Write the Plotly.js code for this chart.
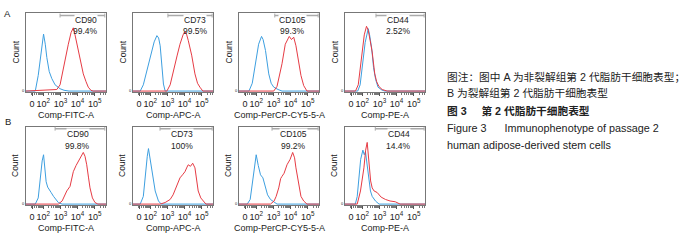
<!DOCTYPE html>
<html><head><meta charset="utf-8">
<script src="https://cdn.plot.ly/plotly-3.0.1.min.js"></script>
<style>html,body{margin:0;padding:0;background:#fff;}#chart{width:700px;height:241px;}</style>
</head><body><div id="chart"></div>
<script>
// ---------- data (x in log-decade units, y = relative count) ----------
const markers = ['CD90', 'CD73', 'CD105', 'CD44'];
const channels = ['Comp-FITC-A', 'Comp-APC-A', 'Comp-PerCP-CY5-5-A', 'Comp-PE-A'];
const pctA = ['99.4%', '99.5%', '99.3%', '2.52%'];
const pctB = ['99.8%', '100%', '99.2%', '14.4%'];
const tickVals = [1.35, 2, 3, 4, 5];
const tickText = ['0', '10<sup>2</sup>', '10<sup>3</sup>', '10<sup>4</sup>', '10<sup>5</sup>'];
const gateStartA = [2.98, 3.03, 3.08, 2.80];
const gateStartB = [2.69, 2.57, 2.92, 2.76];
const gateEnd = [5.58, 5.60, 5.60, 5.60];

// Row A
const aCD90BlueX = [1.0, 1.54, 1.71, 1.88, 2.02, 2.12, 2.21, 2.35, 2.50, 2.69, 2.98, 3.21, 3.5, 5.65];
const aCD90BlueY = [0, 0, 20, 52, 73, 60, 43, 25, 16, 8, 3, 1, 0, 0];
const aCD90RedX = [1.0, 2.79, 2.98, 3.17, 3.33, 3.46, 3.62, 3.75, 3.85, 4.04, 4.20, 4.33, 4.49, 4.62, 4.77, 4.9, 5.65];
const aCD90RedY = [0, 2, 8, 30, 47, 60, 75, 81, 72, 52, 35, 22, 12, 5, 1, 0, 0];
const aCD73BlueX = [1.0, 1.42, 1.6, 1.81, 1.94, 2.10, 2.23, 2.39, 2.49, 2.58, 2.66, 2.77, 2.87, 5.65];
const aCD73BlueY = [0, 0, 8, 27, 40, 52, 63, 71, 68, 58, 35, 9, 0, 0];
const aCD73RedX = [1.0, 2.97, 3.16, 3.35, 3.56, 3.73, 3.91, 4.02, 4.11, 4.21, 4.31, 4.41, 4.60, 4.75, 4.89, 5.06, 5.65];
const aCD73RedY = [0, 0, 8, 27, 45, 60, 72, 76, 73, 65, 55, 46, 22, 10, 5, 0, 0];
const aCD105BlueX = [1.0, 1.58, 1.77, 1.96, 2.14, 2.31, 2.40, 2.54, 2.73, 2.87, 3.02, 3.27, 3.5, 5.65];
const aCD105BlueY = [0, 0, 10, 35, 60, 70, 66, 52, 22, 10, 5, 2, 0, 0];
const aCD105RedX = [1.0, 3.02, 3.21, 3.39, 3.50, 3.69, 3.92, 4.05, 4.18, 4.31, 4.47, 4.60, 4.76, 4.95, 5.65];
const aCD105RedY = [0, 0, 6, 22, 35, 60, 70, 66, 69, 58, 39, 20, 7, 0, 0];
const aCD44BlueX = [1.0, 1.74, 1.88, 2.06, 2.17, 2.35, 2.43, 2.55, 2.66, 2.78, 2.92, 3.16, 3.33, 5.65];
const aCD44BlueY = [0, 0, 8, 42, 62, 80, 72, 55, 30, 15, 5, 1, 0, 0];
const aCD44RedX = [1.0, 1.61, 1.77, 1.96, 2.12, 2.25, 2.35, 2.46, 2.58, 2.73, 2.84, 2.97, 3.16, 3.45, 5.65];
const aCD44RedY = [0, 0, 8, 43, 72, 83, 78, 65, 50, 22, 12, 6, 2, 0, 0];
// Row B
const bCD90BlueX = [1.0, 1.54, 1.71, 1.83, 1.94, 2.02, 2.09, 2.17, 2.26, 2.36, 2.46, 2.60, 2.75, 2.88, 3.1, 5.65];
const bCD90BlueY = [0, 0, 8, 34, 56, 64, 50, 29, 22, 19, 15, 10, 5, 2, 0, 0];
const bCD90RedX = [1.0, 2.88, 3.10, 3.37, 3.56, 3.75, 3.91, 4.04, 4.20, 4.33, 4.43, 4.53, 4.63, 4.72, 4.86, 5.01, 5.18, 5.65];
const bCD90RedY = [0, 0, 4, 17, 23, 42, 50, 55, 62, 67, 62, 51, 35, 21, 8, 2, 0, 0];
const bCD73BlueX = [1.0, 1.42, 1.6, 1.71, 1.83, 1.90, 2.0, 2.10, 2.20, 2.29, 2.48, 2.64, 5.65];
const bCD73BlueY = [0, 0, 10, 38, 62, 72, 58, 42, 25, 17, 4, 0, 0];
const bCD73RedX = [1.0, 2.58, 2.87, 3.16, 3.33, 3.54, 3.73, 3.88, 4.02, 4.14, 4.21, 4.34, 4.47, 4.60, 4.69, 4.79, 4.94, 5.08, 5.24, 5.65];
const bCD73RedY = [0, 0, 2, 6, 12, 23, 34, 38, 42, 48, 51, 49, 53, 47, 32, 17, 8, 4, 0, 0];
const bCD105BlueX = [1.0, 1.48, 1.65, 1.81, 1.91, 2.0, 2.12, 2.25, 2.39, 2.54, 2.66, 2.83, 3.1, 3.21, 5.65];
const bCD105BlueY = [0, 0, 6, 34, 55, 64, 50, 38, 34, 21, 12, 6, 1, 0, 0];
const bCD105RedX = [1.0, 2.83, 3.04, 3.16, 3.31, 3.42, 3.50, 3.62, 3.79, 3.97, 4.12, 4.23, 4.31, 4.47, 4.60, 4.76, 4.95, 5.65];
const bCD105RedY = [0, 0, 4, 10, 21, 33, 36, 40, 51, 58, 67, 60, 47, 23, 10, 4, 0, 0];
const bCD44BlueX = [1.0, 1.6, 1.71, 1.81, 1.91, 2.04, 2.12, 2.19, 2.29, 2.39, 2.48, 2.58, 2.77, 2.98, 5.65];
const bCD44BlueY = [0, 0, 10, 34, 58, 70, 64, 68, 50, 29, 17, 10, 4, 0, 0];
const bCD44RedX = [1.0, 1.71, 1.90, 2.0, 2.10, 2.20, 2.29, 2.35, 2.42, 2.49, 2.58, 2.69, 2.87, 3.1, 3.35, 3.62, 3.92, 4.2, 5.65];
const bCD44RedY = [0, 0, 17, 30, 47, 70, 80, 65, 42, 30, 21, 17, 15, 9, 6, 4, 3, 0, 0];

const captionLines = [
  '图注：图中 A 为非裂解组第 2 代脂肪干细胞表型；',
  'B 为裂解组第 2 代脂肪干细胞表型',
  '<b>图 3&nbsp;&nbsp;&nbsp;&nbsp;&nbsp;第 2 代脂肪干细胞表型</b>',
  'Figure 3&nbsp;&nbsp;&nbsp;&nbsp;&nbsp;&nbsp;Immunophenotype of passage 2',
  'human adipose-derived stem cells'
];

// ---------- layout config ----------
const W = 700, H = 241;
const colLeft = [26, 133, 239, 345];
const panelW = 80;
const rowTop = [13, 127], rowBot = [92, 205];
const labelXA = [4.48, 4.63, 4.10, 4.10];
const labelXB = [4.02, 3.83, 4.14, 4.12];
const BLUE = '#3d9fe0', RED = '#e63b44';
const FONT = 'Liberation Sans, Arial, Noto Sans CJK SC, sans-serif';
const TXT = '#222';

const blues = [[aCD90BlueX, aCD90BlueY], [aCD73BlueX, aCD73BlueY], [aCD105BlueX, aCD105BlueY], [aCD44BlueX, aCD44BlueY],
               [bCD90BlueX, bCD90BlueY], [bCD73BlueX, bCD73BlueY], [bCD105BlueX, bCD105BlueY], [bCD44BlueX, bCD44BlueY]];
const reds = [[aCD90RedX, aCD90RedY], [aCD73RedX, aCD73RedY], [aCD105RedX, aCD105RedY], [aCD44RedX, aCD44RedY],
              [bCD90RedX, bCD90RedY], [bCD73RedX, bCD73RedY], [bCD105RedX, bCD105RedY], [bCD44RedX, bCD44RedY]];

const minorVals = [];
for (let d = 1; d <= 5; d++) for (let k = 2; k <= 9; k++) { const v = d + Math.log10(k); if (v < 5.65) minorVals.push(v); }

const traces = [], shapes = [], annotations = [];
const layout = {
  width: W, height: H, margin: {l: 0, r: 0, t: 0, b: 0},
  paper_bgcolor: '#fff', plot_bgcolor: '#fff', showlegend: false,
  font: {family: FONT, color: TXT}
};

for (let i = 0; i < 8; i++) {
  const row = i < 4 ? 0 : 1, col = i % 4, k = i + 1;
  const xa = 'x' + (k === 1 ? '' : k), ya = 'y' + (k === 1 ? '' : k);
  const xk = 'xaxis' + (k === 1 ? '' : k), yk = 'yaxis' + (k === 1 ? '' : k);
  traces.push({x: blues[i][0], y: blues[i][1], xaxis: xa, yaxis: ya, type: 'scatter', mode: 'lines',
               line: {color: BLUE, width: 1}, hoverinfo: 'skip'});
  traces.push({x: reds[i][0], y: reds[i][1], xaxis: xa, yaxis: ya, type: 'scatter', mode: 'lines',
               line: {color: RED, width: 1}, hoverinfo: 'skip'});
  layout[xk] = {
    domain: [colLeft[col] / W, (colLeft[col] + panelW) / W], range: [1.0, 5.65], anchor: ya,
    showline: true, mirror: true, linecolor: '#777', linewidth: 1,
    tickmode: 'array', tickvals: tickVals, ticktext: tickText, tickangle: 0, ticks: 'outside', ticklen: 3, tickcolor: '#555',
    tickfont: {size: 9, color: TXT, family: FONT}, showgrid: false, zeroline: false, fixedrange: true,
    minor: {tickmode: 'array', tickvals: minorVals, ticks: 'outside', ticklen: 1.5, tickcolor: '#777', showgrid: false}
  };
  layout[yk] = {
    domain: [1 - rowBot[row] / H, 1 - rowTop[row] / H], range: [-1.2, 100], anchor: xa,
    showline: true, mirror: true, linecolor: '#777', linewidth: 1,
    tickmode: 'array', tickvals: [0], ticktext: ['0'], ticks: '', tickfont: {size: 4, color: TXT},
    showgrid: false, zeroline: false, fixedrange: true
  };
  const gs = row === 0 ? gateStartA[col] : gateStartB[col];
  const ge = gateEnd[col];
  const gy = row === 0 ? 0.968 : 0.978;
  shapes.push({type: 'line', xref: xa, yref: ya + ' domain', x0: gs, x1: ge, y0: gy, y1: gy, line: {color: '#aaa', width: 1.5}});
  shapes.push({type: 'line', xref: xa, yref: ya + ' domain', x0: gs, x1: gs, y0: gy - 0.025, y1: gy + 0.025, line: {color: '#aaa', width: 1}});
  shapes.push({type: 'line', xref: xa, yref: ya + ' domain', x0: ge, x1: ge, y0: gy - 0.025, y1: gy + 0.025, line: {color: '#aaa', width: 1}});
  const lx = row === 0 ? labelXA[col] : labelXB[col];
  annotations.push({xref: xa, yref: ya + ' domain', x: lx, y: row === 0 ? 0.915 : 0.905, text: markers[col],
    showarrow: false, xanchor: 'center', yanchor: 'middle', bgcolor: '#fff', borderpad: 0, font: {size: 8.5, color: TXT}});
  annotations.push({xref: xa, yref: ya + ' domain', x: lx, y: row === 0 ? 0.77 : 0.755, text: row === 0 ? pctA[col] : pctB[col],
    showarrow: false, xanchor: 'center', yanchor: 'middle', font: {size: 8.5, color: TXT}});
  annotations.push({xref: xa + ' domain', yref: ya + ' domain', x: 0.5, y: 0, yshift: -23, text: channels[col],
    showarrow: false, xanchor: 'center', yanchor: 'middle', font: {size: 9, color: TXT}});
  annotations.push({xref: xa + ' domain', yref: ya + ' domain', x: 0, xshift: -11, y: 0.5, text: 'Count', textangle: -90,
    showarrow: false, xanchor: 'center', yanchor: 'middle', font: {size: 8.5, color: TXT}});
}

annotations.push({xref: 'paper', yref: 'paper', x: 7 / W, y: 1 - 13.5 / H, text: 'A', showarrow: false,
  xanchor: 'center', yanchor: 'middle', font: {size: 9.5, color: TXT}});
annotations.push({xref: 'paper', yref: 'paper', x: 7.5 / W, y: 1 - 121.5 / H, text: 'B', showarrow: false,
  xanchor: 'center', yanchor: 'middle', font: {size: 9.5, color: TXT}});

const capY = [77, 93.5, 111, 128, 145];
captionLines.forEach((t, j) => {
  annotations.push({xref: 'paper', yref: 'paper', x: 445 / W, y: 1 - capY[j] / H, xanchor: 'left', yanchor: 'middle',
    text: t, showarrow: false, font: {size: j < 3 ? 10.7 : 10.8, color: TXT, family: FONT}});
});

layout.shapes = shapes;
layout.annotations = annotations;
Plotly.newPlot('chart', traces, layout, {staticPlot: true, displayModeBar: false});
</script></body></html>
